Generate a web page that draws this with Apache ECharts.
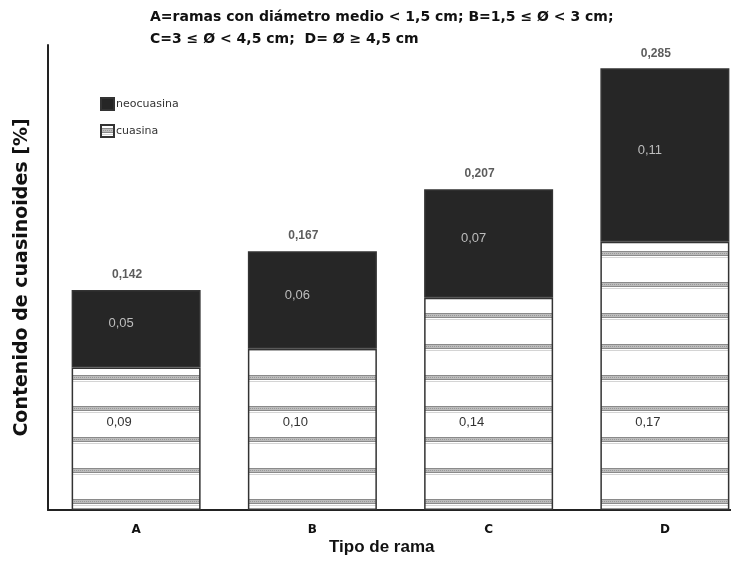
<!DOCTYPE html>
<html>
<head>
<meta charset="utf-8">
<script src="https://cdn.jsdelivr.net/npm/echarts@6/dist/echarts.min.js"></script>
<style>html,body{margin:0;padding:0;background:#fff}#c{width:731px;height:574px}</style>
</head>
<body>
<div id="c"></div>
<script>
var categories = ['A', 'B', 'C', 'D'];
var cuasina = [0.092, 0.104, 0.137, 0.173];
var neocuasina = [0.050, 0.063, 0.070, 0.112];
var totals = [0.142, 0.167, 0.207, 0.285];
var cuasinaLabels = ['0,09', '0,10', '0,14', '0,17'];
var neoLabels = ['0,05', '0,06', '0,07', '0,11'];
var totalLabels = ['0,142', '0,167', '0,207', '0,285'];

function makePattern() {
  var c = document.createElement('canvas');
  c.width = 8; c.height = 31;
  var g = c.getContext('2d');
  g.fillStyle = '#ffffff'; g.fillRect(0, 0, 8, 31);
  g.fillStyle = '#8a8a8a'; g.fillRect(0, 3, 8, 1);
  g.fillStyle = '#bcbcbc'; g.fillRect(0, 4, 8, 3);
  g.fillStyle = '#999999';
  for (var x = 0; x < 8; x += 2) g.fillRect(x, 5, 1, 1);
  g.fillStyle = '#8a8a8a'; g.fillRect(0, 7, 8, 1);
  g.fillStyle = '#d4d4d4'; g.fillRect(0, 9, 8, 1);
  return c;
}
var pattern = { image: makePattern(), repeat: 'repeat' };

var chart = echarts.init(document.getElementById('c'), null, { renderer: 'canvas' });
chart.setOption({
  animation: false,
  backgroundColor: '#fff',
  textStyle: { fontFamily: 'Liberation Sans' },
  title: {
    text: 'A=ramas con diámetro medio < 1,5 cm; B=1,5 ≤ Ø < 3 cm;\nC=3 ≤ Ø < 4,5 cm;  D= Ø ≥ 4,5 cm',
    left: 145, top: 1,
    textStyle: { fontSize: 14, fontWeight: 'bold', color: '#111', lineHeight: 22, fontFamily: 'DejaVu Sans' }
  },
  legend: {
    orient: 'vertical', left: 95, top: 92, itemWidth: 13, itemHeight: 12, itemGap: 13,
    icon: 'rect',
    data: ['neocuasina', 'cuasina'],
    textStyle: { fontSize: 11, color: '#333', fontFamily: 'DejaVu Sans', padding: [0, 0, 0, -3] }
  },
  grid: { left: 48, right: -22, top: 45, bottom: 64, outerBoundsMode: 'none', containLabel: false },
  xAxis: {
    type: 'category', data: categories,
    axisLine: { lineStyle: { color: '#222', width: 2 } },
    axisTick: { show: false },
    axisLabel: { fontWeight: 'bold', fontSize: 12, color: '#111', margin: 14, fontFamily: 'DejaVu Sans' }
  },
  yAxis: {
    type: 'value', min: 0, max: 0.3,
    name: 'Contenido de cuasinoides [%]', nameLocation: 'middle', nameGap: 16, nameRotate: 90,
    nameTextStyle: { fontSize: 19, fontWeight: 'bold', color: '#111', fontFamily: 'DejaVu Sans' },
    axisLine: { show: true, lineStyle: { color: '#222', width: 2 } },
    axisTick: { show: false }, axisLabel: { show: false }, splitLine: { show: false }
  },
  graphic: [{
    type: 'text', left: 329, top: 539,
    style: { text: 'Tipo de rama', fontSize: 17, fontWeight: 'bold', fill: '#111', fontFamily: 'Liberation Sans' }
  }],
  series: [
    {
      name: 'cuasina', type: 'bar', stack: 'total', barWidth: 129,
      data: cuasina,
      itemStyle: { color: pattern, borderColor: '#333', borderWidth: 1.5 },
      label: {
        show: true, position: 'insideBottom', distance: 81, offset: [-17, 0],
        fontSize: 13, color: '#333',
        formatter: function (p) { return cuasinaLabels[p.dataIndex]; }
      }
    },
    {
      name: 'neocuasina', type: 'bar', stack: 'total', barWidth: 129,
      data: neocuasina,
      itemStyle: { color: '#262626', borderColor: '#333', borderWidth: 1.5 },
      label: {
        show: true, position: 'inside', offset: [-15, -5],
        fontSize: 13, color: '#bdbdbd',
        formatter: function (p) { return neoLabels[p.dataIndex]; }
      }
    },
    {
      name: 'total', type: 'scatter', data: totals, symbolSize: 0, silent: true,
      label: {
        show: true, position: 'top', distance: 9, offset: [-9, 0], fontSize: 12, fontWeight: 'bold', color: '#333',
        formatter: function (p) { return totalLabels[p.dataIndex]; }
      }
    }
  ]
});
</script>
</body>
</html>
